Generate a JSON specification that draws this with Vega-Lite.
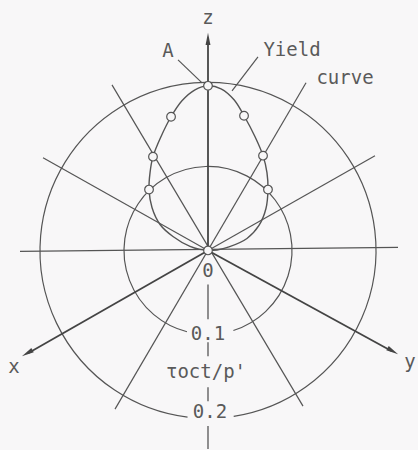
{
  "$schema": "https://vega.github.io/schema/vega-lite/v6.json",
  "width": 418,
  "height": 450,
  "autosize": {"type": "fit", "contains": "padding"},
  "padding": 0,
  "background": "#f8f7f8",
  "config": {
    "view": {"stroke": null},
    "axis": {"disable": true},
    "text": {"font": "DejaVu Sans Mono", "fontSize": 19, "color": "#5a5a5a"}
  },
  "datasets": {
    "curve": [
      {"i": 1, "x": 0, "y": 0},
      {"i": 2, "x": -0.0095, "y": 0.0012},
      {"i": 3, "x": -0.0214, "y": 0.0048},
      {"i": 4, "x": -0.0417, "y": 0.0167},
      {"i": 5, "x": -0.0571, "y": 0.031},
      {"i": 6, "x": -0.0667, "y": 0.0512},
      {"i": 7, "x": -0.0702, "y": 0.0726},
      {"i": 8, "x": -0.069, "y": 0.0929},
      {"i": 9, "x": -0.0655, "y": 0.1119},
      {"i": 10, "x": -0.056, "y": 0.1357},
      {"i": 11, "x": -0.044, "y": 0.1595},
      {"i": 12, "x": -0.031, "y": 0.1786},
      {"i": 13, "x": -0.0155, "y": 0.1917},
      {"i": 14, "x": 0, "y": 0.1964},
      {"i": 15, "x": 0.0155, "y": 0.1929},
      {"i": 16, "x": 0.031, "y": 0.1798},
      {"i": 17, "x": 0.0429, "y": 0.1607},
      {"i": 18, "x": 0.056, "y": 0.1357},
      {"i": 19, "x": 0.0655, "y": 0.1131},
      {"i": 20, "x": 0.0702, "y": 0.0929},
      {"i": 21, "x": 0.0714, "y": 0.0726},
      {"i": 22, "x": 0.069, "y": 0.05},
      {"i": 23, "x": 0.0607, "y": 0.0298},
      {"i": 24, "x": 0.0464, "y": 0.0143},
      {"i": 25, "x": 0.025, "y": 0.0042},
      {"i": 26, "x": 0.0107, "y": 0.0006},
      {"i": 27, "x": 0, "y": 0}
    ],
    "tests": [
      {"x": 0, "y": 0},
      {"x": -0.0702, "y": 0.0726},
      {"x": -0.0655, "y": 0.1119},
      {"x": -0.044, "y": 0.1595},
      {"x": 0, "y": 0.1964},
      {"x": 0.0429, "y": 0.1607},
      {"x": 0.0655, "y": 0.1131},
      {"x": 0.0714, "y": 0.0726}
    ],
    "rings": [
      {"r": 0.1, "from": 194.5, "to": 522.4},
      {"r": 0.2, "from": 187, "to": 531.2}
    ],
    "axes": [
      {"name": "z", "x": 0, "y": 0, "x2": 0, "y2": 0.2512},
      {"name": "x", "x": 0, "y": 0, "x2": -0.2143, "y2": -0.1226},
      {"name": "y", "x": 0, "y": 0, "x2": 0.219, "y2": -0.1202}
    ],
    "guides": [
      {"x": -0.2238, "y": -0.0012, "x2": 0.2262, "y2": 0.0036},
      {"x": -0.1143, "y": 0.1976, "x2": 0.1131, "y2": -0.1857},
      {"x": 0.1167, "y": 0.2, "x2": -0.1107, "y2": -0.1893},
      {"x": -0.1964, "y": 0.1107, "x2": 0, "y2": 0},
      {"x": 0.1988, "y": 0.1131, "x2": 0, "y2": 0},
      {"x": -0.0357, "y": 0.2274, "x2": -0.0071, "y2": 0.2},
      {"x": 0.0595, "y": 0.231, "x2": 0.0286, "y2": 0.1905}
    ],
    "dashes": [
      {"x": 0, "y": -0.0405, "y2": -0.0821},
      {"x": 0, "y": -0.1095, "y2": -0.1262},
      {"x": 0, "y": -0.1631, "y2": -0.1798},
      {"x": 0, "y": -0.2095, "y2": -0.2369}
    ],
    "heads": [
      {"name": "z", "x": 0, "y": 0.2524, "dir": 0},
      {"name": "x", "x": -0.2152, "y": -0.1226, "dir": 240},
      {"name": "y", "x": 0.22, "y": -0.1202, "dir": 120}
    ],
    "labels": [
      {"text": "z", "x": 0, "y": 0.2774},
      {"text": "A", "x": -0.0476, "y": 0.2381},
      {"text": "Yield", "x": 0.1, "y": 0.2393},
      {"text": "curve", "x": 0.1631, "y": 0.206},
      {"text": "0", "x": 0, "y": -0.025},
      {"text": "0.1", "x": 0, "y": -0.1},
      {"text": "τoct/p'", "x": -0.0024, "y": -0.1452},
      {"text": "0.2", "x": 0.0024, "y": -0.1929},
      {"text": "x", "x": -0.231, "y": -0.1393},
      {"text": "y", "x": 0.2405, "y": -0.1333}
    ]
  },
  "layer": [
    {
      "data": {"name": "rings"},
      "mark": {"type": "arc", "filled": false, "stroke": "#555555", "strokeWidth": 1.2},
      "encoding": {
        "x": {"datum": 0, "type": "quantitative", "scale": {"domain": [-0.24762, 0.25], "nice": false, "zero": false}},
        "y": {"datum": 0, "type": "quantitative", "scale": {"domain": [-0.2369, 0.29881], "nice": false, "zero": false}},
        "theta": {"field": "from", "type": "quantitative", "stack": null, "scale": {"domain": [0, 360], "range": [0, 6.283185307]}},
        "theta2": {"field": "to"},
        "radius": {"field": "r", "type": "quantitative", "scale": {"type": "linear", "zero": true, "domain": [0, 0.2], "range": [0, 168]}},
        "radius2": {"field": "r"}
      }
    },
    {
      "data": {"name": "guides"},
      "mark": {"type": "rule", "color": "#555555", "strokeWidth": 1.2},
      "encoding": {
        "x": {"field": "x", "type": "quantitative", "scale": {"domain": [-0.24762, 0.25], "nice": false, "zero": false}},
        "y": {"field": "y", "type": "quantitative", "scale": {"domain": [-0.2369, 0.29881], "nice": false, "zero": false}},
        "x2": {"field": "x2"},
        "y2": {"field": "y2"}
      }
    },
    {
      "data": {"name": "dashes"},
      "mark": {"type": "rule", "color": "#555555", "strokeWidth": 1.3},
      "encoding": {
        "x": {"field": "x", "type": "quantitative", "scale": {"domain": [-0.24762, 0.25], "nice": false, "zero": false}},
        "y": {"field": "y", "type": "quantitative", "scale": {"domain": [-0.2369, 0.29881], "nice": false, "zero": false}},
        "y2": {"field": "y2"}
      }
    },
    {
      "data": {"name": "axes"},
      "mark": {"type": "rule", "color": "#444444", "strokeWidth": 1.8},
      "encoding": {
        "x": {"field": "x", "type": "quantitative", "scale": {"domain": [-0.24762, 0.25], "nice": false, "zero": false}},
        "y": {"field": "y", "type": "quantitative", "scale": {"domain": [-0.2369, 0.29881], "nice": false, "zero": false}},
        "x2": {"field": "x2"},
        "y2": {"field": "y2"}
      }
    },
    {
      "data": {"name": "heads"},
      "mark": {"type": "point", "shape": "M0,-1L0.4,1L-0.4,1Z", "filled": true, "color": "#444444", "opacity": 1, "size": 150},
      "encoding": {
        "x": {"field": "x", "type": "quantitative", "scale": {"domain": [-0.24762, 0.25], "nice": false, "zero": false}},
        "y": {"field": "y", "type": "quantitative", "scale": {"domain": [-0.2369, 0.29881], "nice": false, "zero": false}},
        "angle": {"field": "dir", "type": "quantitative", "scale": {"domain": [0, 360], "range": [0, 360]}}
      }
    },
    {
      "data": {"name": "curve"},
      "mark": {"type": "line", "interpolate": "catmull-rom", "color": "#555555", "strokeWidth": 1.4},
      "encoding": {
        "x": {"field": "x", "type": "quantitative", "scale": {"domain": [-0.24762, 0.25], "nice": false, "zero": false}},
        "y": {"field": "y", "type": "quantitative", "scale": {"domain": [-0.2369, 0.29881], "nice": false, "zero": false}},
        "order": {"field": "i", "type": "quantitative"}
      }
    },
    {
      "data": {"name": "tests"},
      "mark": {"type": "point", "shape": "circle", "filled": true, "fill": "#f8f7f8", "stroke": "#555555", "strokeWidth": 1.2, "opacity": 1, "size": 75},
      "encoding": {
        "x": {"field": "x", "type": "quantitative", "scale": {"domain": [-0.24762, 0.25], "nice": false, "zero": false}},
        "y": {"field": "y", "type": "quantitative", "scale": {"domain": [-0.2369, 0.29881], "nice": false, "zero": false}}
      }
    },
    {
      "data": {"name": "labels"},
      "mark": {"type": "text", "align": "center", "baseline": "middle"},
      "encoding": {
        "x": {"field": "x", "type": "quantitative", "scale": {"domain": [-0.24762, 0.25], "nice": false, "zero": false}},
        "y": {"field": "y", "type": "quantitative", "scale": {"domain": [-0.2369, 0.29881], "nice": false, "zero": false}},
        "text": {"field": "text", "type": "nominal"}
      }
    }
  ]
}
